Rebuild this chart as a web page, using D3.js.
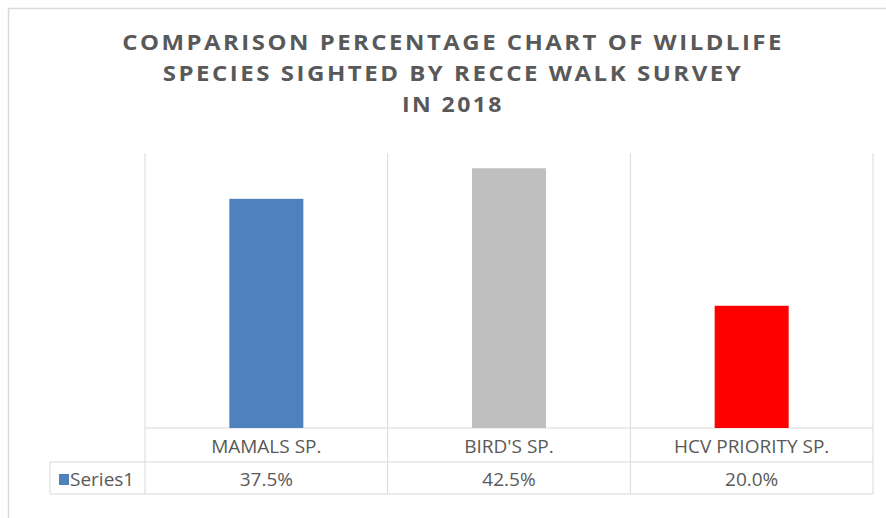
<!DOCTYPE html>
<html>
<head>
<meta charset="utf-8">
<script src="https://cdn.jsdelivr.net/npm/d3@7"></script>
<style>
  html, body { margin: 0; padding: 0; background: #fff; }
  svg { display: block; }
</style>
</head>
<body>
<svg id="chart" width="886" height="518"></svg>
<script>
// ---- data ----
const titleLines = ["COMPARISON PERCENTAGE CHART OF WILDLIFE", "SPECIES SIGHTED BY RECCE WALK SURVEY", "IN 2018"];
const categories = ["MAMALS SP.", "BIRD'S SP.", "HCV PRIORITY SP."];
const values = [0.375, 0.425, 0.20];
const valueLabels = ["37.5%", "42.5%", "20.0%"];
const barColors = ["#4f81bd", "#bfbfbf", "#ff0000"];
const seriesName = "Series1";
const yDomain = [0, 0.45];

// ---- layout ----
const svg = d3.select("#chart");
const W = 886, H = 518;
const plotLeft = 145, plotRight = 873, plotTop = 153, plotBottom = 428;
const row1Bottom = 462, row2Bottom = 494, tableLeft = 50;
const gridColor = "#d9d9d9";
const textColor = "#595959";

svg.append("rect").attr("width", W).attr("height", H).attr("fill", "#fff");
// outer chart border (right/bottom fall outside the picture)
svg.append("rect").attr("x", 8.5).attr("y", 8.5).attr("width", 900).attr("height", 520)
  .attr("fill", "none").attr("stroke", gridColor).attr("stroke-width", 1.5);

// title: tall glyphs, letter-spaced, condensed horizontally to fit
const titleWidths = [662, 581, 102];
const titleBase = [50, 81, 112];
svg.append("g").selectAll("text").data(titleLines).join("text")
  .attr("x", 0).attr("y", 0)
  .attr("text-anchor", "middle")
  .attr("font-family", "'Open Sans', sans-serif")
  .attr("font-weight", "bold")
  .attr("font-size", 21)
  .attr("letter-spacing", "2.2px")
  .attr("fill", textColor)
  .text(d => d)
  .each(function(d, i) {
    const len = this.getComputedTextLength();
    const s = titleWidths[i] / len;
    d3.select(this).attr("transform", `translate(453,${titleBase[i]}) scale(${s},1)`);
  });

const x = d3.scaleBand().domain(categories).range([plotLeft, plotRight]).padding(0);
const y = d3.scaleLinear().domain(yDomain).range([plotBottom, plotTop]);
const barFrac = 0.305;
const bw = x.bandwidth() * barFrac;

// vertical gridlines (category boundaries) spanning plot and table
const bounds = categories.map(c => x(c)).concat([plotRight]);
svg.append("g").selectAll("line").data(bounds).join("line")
  .attr("x1", d => d).attr("x2", d => d)
  .attr("y1", plotTop).attr("y2", row2Bottom)
  .attr("stroke", gridColor).attr("stroke-width", 1);

// horizontal table lines
svg.append("line").attr("x1", plotLeft).attr("x2", plotRight).attr("y1", plotBottom).attr("y2", plotBottom)
  .attr("stroke", gridColor);
svg.append("line").attr("x1", tableLeft).attr("x2", plotRight).attr("y1", row1Bottom).attr("y2", row1Bottom)
  .attr("stroke", gridColor);
svg.append("line").attr("x1", tableLeft).attr("x2", plotRight).attr("y1", row2Bottom).attr("y2", row2Bottom)
  .attr("stroke", gridColor);
svg.append("line").attr("x1", tableLeft).attr("x2", tableLeft).attr("y1", row1Bottom).attr("y2", row2Bottom)
  .attr("stroke", gridColor);

// bars
svg.append("g").selectAll("rect").data(categories).join("rect")
  .attr("x", c => x(c) + (x.bandwidth() - bw) / 2)
  .attr("y", (c, i) => y(values[i]))
  .attr("width", bw)
  .attr("height", (c, i) => y(0) - y(values[i]))
  .attr("fill", (c, i) => barColors[i]);

// category labels
svg.append("g").selectAll("text").data(categories).join("text")
  .attr("x", c => x(c) + x.bandwidth() / 2)
  .attr("y", 453)
  .attr("text-anchor", "middle")
  .attr("font-family", "'Open Sans', sans-serif")
  .attr("font-size", 19)
  .attr("fill", textColor)
  .text(c => c);

// value labels
svg.append("g").selectAll("text").data(categories).join("text")
  .attr("x", c => x(c) + x.bandwidth() / 2)
  .attr("y", 486)
  .attr("text-anchor", "middle")
  .attr("font-family", "'Open Sans', sans-serif")
  .attr("font-size", 19)
  .attr("fill", textColor)
  .text((c, i) => valueLabels[i]);

// legend key in table
svg.append("rect").attr("x", 59).attr("y", 474).attr("width", 10).attr("height", 11).attr("fill", barColors[0]);
svg.append("text").attr("x", 70).attr("y", 486)
  .attr("font-family", "'Open Sans', sans-serif")
  .attr("font-size", 19)
  .attr("fill", textColor)
  .text(seriesName);
</script>
</body>
</html>
